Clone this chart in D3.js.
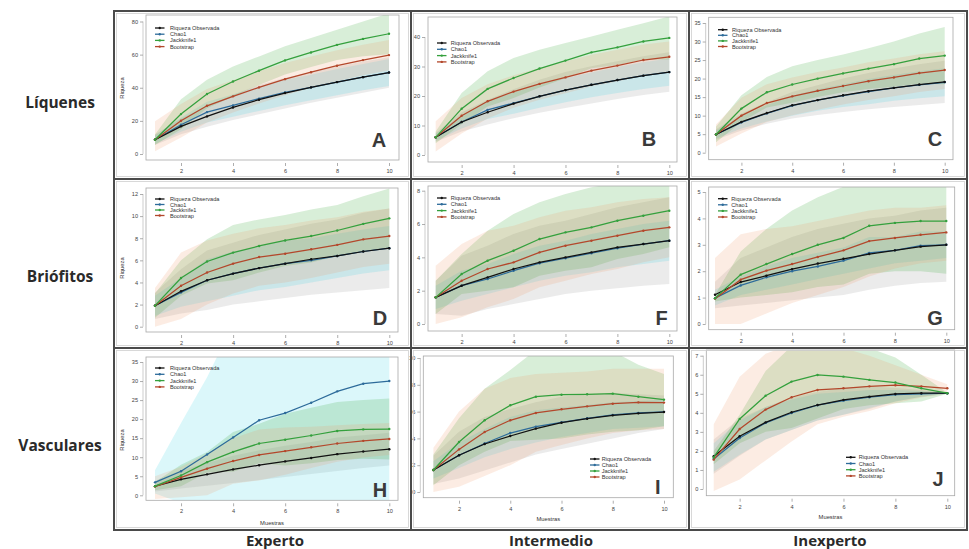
<!DOCTYPE html>
<html><head><meta charset="utf-8">
<script src="https://cdn.jsdelivr.net/npm/d3@7"></script>
<style>body{margin:0;background:#fff} svg{display:block}</style>
</head><body><svg id="c" width="969" height="549"></svg>
<script>
// ---------------- DATA ----------------
const samples = [1,2,3,4,5,6,7,8,9,10];
const seriesNames = ["Riqueza Observada","Chao1","Jackknife1","Bootstrap"];
const rowLabels = ["Líquenes","Briófitos","Vasculares"];
const colLabels = ["Experto","Intermedio","Inexperto"];
const panelLetters = ["A","B","C","D","F","G","H","I","J"];
const xTicks = [2,4,6,8,10];
const xTitle = "Muestras";
const yTitle = "Riqueza";

const yTicksA = [0,20,40,60,80];
const yTicksB = [0,10,20,30,40];
const yTicksC = [0,5,10,15,20,25,30,35];
const yTicksD = [0,2,4,6,8,10,12];
const yTicksF = [0,2,4,6,8];
const yTicksG = [0,1,2,3,4,5];
const yTicksH = [0,5,10,15,20,25,30,35];
const yTicksI = [0,2,4,6,8,10];
const yTicksJ = [0,1,2,3,4,5,6,7];

// series order: observed, chao1, jackknife1, bootstrap
const A_values = [[8.6,16.7,22.7,28.1,32.8,36.8,40.2,43.4,46.4,49.2],[8.6,17.7,25.3,29.3,33.4,37.2,40.2,43.4,46.4,49.2],[8.6,24.1,36.2,43.8,50.3,56.5,61.3,65.9,69.5,72.6],[8.6,20.1,29.1,34.8,40.2,45.2,49.4,53.3,56.7,59.7]];
const A_lower  = [[5.5,12,16.5,20.5,24,27.5,31,34,37,40],[6,13.5,19,22.5,26,29.5,32.5,35.5,38.5,41],[5.5,15,27.6,34.7,41.7,48,52.6,56.8,59,60.2],[1.6,10,19,25,30.5,35.5,40,44,47.5,50.5]];
const A_upper  = [[11.7,21.4,28.9,35.7,41.6,46.1,49.4,52.8,55.8,58.4],[11.2,22,31.5,36,40.8,44.9,47.9,51.3,54.3,57.4],[11.7,33,44.8,52.9,58.9,65,70,75,80,85],[19.7,30.2,39.2,44.6,49.9,54.9,58.8,62.6,65.9,68.9]];

const B_values = [[6.0,11.2,14.5,17.4,19.9,22.0,23.8,25.4,26.9,28.1],[6.0,11.2,15.3,17.6,19.9,22.0,23.8,25.4,26.9,28.1],[6.0,15.7,22.4,26.1,29.3,32.0,34.8,36.5,38.5,39.7],[6.0,13.3,18.2,21.5,24.1,26.3,28.6,30.3,32.2,33.3]];
const B_lower  = [[4.5,8,10.3,12.5,14.3,15.9,17.5,19,20.3,21.4],[4.8,9,12.2,14,16,17.9,19.6,21,22.4,23.5],[4,10.4,16.4,19.3,22.9,26,29.4,30.5,32.3,32.4],[1.2,7.3,12.4,16,18.7,20.9,23.2,24.9,26.9,28.1]];
const B_upper  = [[7.5,14.4,18.7,22.3,25.5,28.1,30.1,31.8,33.5,34.8],[7.2,13.4,18.4,21.2,23.8,26.1,28,29.8,31.4,32.7],[8,21,28.4,32.9,35.7,38,40.2,42.5,44.7,47],[11.4,19.3,24,27,29.5,31.7,34,35.7,37.5,38.5]];

const C_values = [[4.9,8.3,10.7,12.8,14.2,15.5,16.6,17.5,18.4,19.1],[4.9,8.2,10.6,12.7,14.2,15.4,16.5,17.5,18.3,19.0],[4.9,11.9,16.3,18.4,20.0,21.4,22.7,23.9,25.4,26.2],[4.9,10.0,13.4,15.2,16.7,18.0,19.3,20.3,21.5,22.3]];
const C_lower  = [[3.5,6,7.8,9.2,10.2,11,11.7,12.3,12.9,13.4],[3.8,6.5,8.4,10,11.3,12.3,13.1,14,14.7,15.2],[2.8,8.3,12.2,13.5,15,16.3,17.2,17.8,18.6,18.5],[1.7,5.2,8.3,10.1,11.6,13,14.2,15.2,16.4,17.2]];
const C_upper  = [[6.3,10.6,13.6,16.4,18.2,20,21.5,22.7,23.9,24.8],[6,9.9,12.8,15.4,17.1,18.5,19.9,21,22,22.8],[7,15.5,20.4,23.3,25,26.5,28.2,30,32.2,33.9],[7.6,14.8,18.5,20.3,21.8,23,24.4,25.4,26.6,27.4]];

const D_values = [[1.9,3.2,4.2,4.8,5.3,5.7,6.1,6.4,6.8,7.1],[1.9,3.1,4.2,4.8,5.3,5.7,6.0,6.4,6.8,7.1],[1.9,4.4,5.9,6.7,7.3,7.8,8.2,8.7,9.3,9.8],[1.9,3.7,4.9,5.7,6.3,6.6,7.0,7.4,7.9,8.2]];
const D_lower  = [[0.7,1.2,1.5,2,2.3,2.6,2.9,3.1,3.3,3.5],[1,1.8,2.3,2.8,3.3,3.6,4,4.4,4.8,5.1],[0.8,2.8,3.9,4.2,4.9,5.5,5.8,6.4,6.8,7.1],[0,0.7,2,3,3.7,4,4.4,4.9,5.4,5.7]];
const D_upper  = [[3.1,5.2,6.9,7.6,8.3,8.8,9.3,9.7,10.3,10.7],[2.8,4.4,6.1,6.8,7.3,7.8,8,8.4,8.8,9.1],[3,6,7.9,9.2,9.7,10.1,10.6,11,11.8,12.5],[3.5,6.7,7.8,8.4,8.9,9.2,9.6,9.9,10.4,10.7]];

const F_values = [[1.6,2.3,2.8,3.3,3.7,4.0,4.3,4.6,4.8,5.0],[1.6,2.3,2.7,3.2,3.65,3.95,4.25,4.55,4.8,5.0],[1.6,3.0,3.8,4.4,5.1,5.5,5.8,6.2,6.5,6.8],[1.6,2.6,3.3,3.7,4.3,4.7,5.0,5.3,5.6,5.8]];
const F_lower  = [[0.6,0.5,0.9,1.2,1.5,1.8,2,2.15,2.3,2.4],[0.9,1.4,1.8,2.2,2.6,2.9,3.1,3.4,3.6,3.8],[0.6,1.8,2,2.2,2.9,3.2,3.4,3.9,4.2,4.6],[0,0.4,1,1.5,2.2,2.6,3,3.3,3.7,4]];
const F_upper  = [[2.6,4.1,4.7,5.4,5.9,6.2,6.6,7,7.3,7.6],[2.3,3.2,3.6,4.2,4.7,5,5.4,5.7,6,6.2],[2.6,4.2,5.6,6.6,7.3,7.8,8.2,8.5,8.8,9],[3.5,4.8,5.6,5.9,6.4,6.8,7,7.3,7.5,7.6]];

const G_values = [[1.11,1.59,1.83,2.08,2.29,2.47,2.65,2.79,2.93,3.0],[0.98,1.46,1.77,2.0,2.18,2.40,2.69,2.79,2.97,3.0],[0.98,1.87,2.27,2.65,3.0,3.26,3.72,3.83,3.9,3.9],[0.96,1.68,2.02,2.27,2.54,2.79,3.14,3.26,3.38,3.47]];
const G_lower  = [[0.6,0.7,0.8,0.9,1,1.1,1.3,1.45,1.55,1.6],[0.7,1.1,1.3,1.5,1.7,1.9,2.1,2.3,2.4,2.5],[0.85,1,1.1,1.2,1.4,1.5,1.9,2,2,1.9],[0,0,0.4,0.8,1.1,1.4,1.8,2.1,2.3,2.4]];
const G_upper  = [[1.6,2.5,2.9,3.3,3.6,3.8,4,4.1,4.3,4.4],[1.3,1.8,2.2,2.5,2.7,2.9,3.3,3.3,3.5,3.5],[1.1,2.75,3.6,4.3,4.8,5.2,5.6,5.7,5.8,5.9],[2.5,3.4,3.6,3.7,3.9,4.1,4.3,4.4,4.4,4.5]];

const H_values = [[2.4,4.2,5.5,6.8,7.9,8.9,9.8,10.8,11.5,12.1],[3.4,6.3,10.7,15.2,19.7,21.6,24.3,27.3,29.3,30.0],[2.4,5.2,8.7,11.4,13.6,14.6,15.7,16.9,17.3,17.4],[2.3,4.7,7.0,9.0,10.6,11.6,12.6,13.6,14.3,14.8]];
const H_lower  = [[1,1.8,2.5,3.2,4,4.8,5.6,6.4,7.2,7.8],[0.5,-2,-3,-3,-3,-3,-3,-3,-3,-3],[1.3,2.4,6,6.2,8.4,7.8,8.4,9.3,9.6,9.4],[-1,-0.5,0,3,3.9,5.4,7.2,8.8,9.9,10.6]];
const H_upper  = [[3.8,6.6,8.5,10.4,11.8,13,14,15.2,15.8,16.4],[6.6,19,31,45,60,60,60,60,60,60],[3.5,8,11.4,16.6,18.8,21.4,23,24.5,25,25.4],[5,7.5,11,15,17.3,17.8,18,18.4,18.7,19]];

const I_values = [[1.64,2.74,3.58,4.18,4.73,5.17,5.47,5.72,5.87,5.97],[1.64,2.74,3.62,4.4,4.88,5.2,5.5,5.75,5.9,5.98],[1.64,3.73,5.35,6.47,7.11,7.26,7.29,7.34,7.11,6.89],[1.64,3.18,4.48,5.35,5.9,6.17,6.39,6.59,6.69,6.67]];
const I_lower  = [[0.6,1,1.6,2.2,2.8,3.2,3.6,4,4.4,4.7],[1,1.8,2.6,3.2,3.7,4.1,4.4,4.7,4.8,4.9],[0.5,2,3,3.8,3.9,4,4.3,4.5,4.6,4.9],[0,0.4,1.2,2,3,3.5,4,4.4,4.6,4.7]];
const I_upper  = [[2.7,4.5,5.6,6.2,6.7,7.1,7.3,7.4,7.3,7.2],[2.3,3.7,4.7,5.6,6.1,6.3,6.5,6.7,6.8,6.9],[2.8,5.5,7.7,9.1,10.6,11,11,10.5,9.5,8.8],[3.3,6,7.7,8.5,8.8,8.9,9,9.2,9.2,9.2]];

const J_values = [[1.72,2.77,3.5,4.03,4.41,4.68,4.85,4.99,5.03,5.03],[1.58,2.68,3.47,3.99,4.4,4.64,4.82,4.96,5.0,5.03],[1.66,3.68,4.9,5.64,5.99,5.9,5.73,5.59,5.29,5.03],[1.54,3.15,4.17,4.82,5.2,5.29,5.39,5.45,5.39,5.29]];
const J_lower  = [[0.8,1.75,2.6,3.1,3.6,3.9,4.2,4.6,4.85,5.0],[0.9,1.8,2.6,3.1,3.6,3.9,4.25,4.6,4.85,5.0],[1.3,2.4,3,3.2,3.7,4.2,4.4,4.5,4.6,5.0],[-0.1,0.5,1.5,2.5,3.4,3.8,4.1,4.5,4.8,5.0]];
const J_upper  = [[2.6,3.7,4.3,4.8,5.1,5.3,5.4,5.3,5.2,5.05],[2.4,3.6,4.3,4.7,5,5.1,5.2,5.2,5.15,5.05],[2,3.9,6.2,7.5,7.8,7.7,7.4,6.9,6,5.05],[3.4,5.9,7.1,7.6,7.6,7.4,7,6.5,6,5.5]];

// ---------------- STYLE / LAYOUT ----------------
const lineColors = ["#111111","#2d6b9a","#34a03d","#b3472b"];
const bandColors = ["rgba(130,130,130,0.16)","rgba(40,210,225,0.17)","rgba(60,170,60,0.2)","rgba(240,150,100,0.18)"];

const panelData = [
  [A_values,A_lower,A_upper,yTicksA],[B_values,B_lower,B_upper,yTicksB],[C_values,C_lower,C_upper,yTicksC],
  [D_values,D_lower,D_upper,yTicksD],[F_values,F_lower,F_upper,yTicksF],[G_values,G_lower,G_upper,yTicksG],
  [H_values,H_lower,H_upper,yTicksH],[I_values,I_lower,I_upper,yTicksI],[J_values,J_lower,J_upper,yTicksJ]
];
const layout = [
  {box:[146,15,399,160], xr:[155,389], yv:[0,80], yp:[154,21.5], leg:[155,28,6.2,15], letter:[379,147], ylab:88},
  {box:[428,17,677,162], xr:[435.7,669.3], yv:[0,40], yp:[155,37], leg:[437,43,6.3,13.7], letter:[649,146]},
  {box:[708.7,17.3,953,159.7], xr:[716,944.7], yv:[0,35], yp:[152.7,23], leg:[718,29.7,5.6,14], letter:[935,146]},
  {box:[146,188,398,332], xr:[155,389.3], yv:[0,12], yp:[326.7,194], leg:[155,199,5.5,15], letter:[380,324.7], ylab:268},
  {box:[428,186,677,331], xr:[435.7,669.3], yv:[0,8], yp:[324,190.7], leg:[437,198,6.3,13.7], letter:[661.7,324.7]},
  {box:[708.7,187,954.7,329.7], xr:[715,946.3], yv:[0,5], yp:[324,192], leg:[718,198.7,6.1,13.3], letter:[935,324.7]},
  {box:[146,357,398,500.3], xr:[155,389.3], yv:[0,35], yp:[495.3,362], leg:[155,368,6.3,15], letter:[380,497], ylab:440, xlab:524.5},
  {box:[423.3,356,673.3,497.7], xr:[433.4,664], yv:[0,10], yp:[492,358], leg:[590,459,6,11.7], letter:[657.7,493.7], xlab:520.5},
  {box:[706.3,350,954.7,495.7], xr:[713.7,947.3], yv:[0,7], yp:[489,355.7], leg:[846,457.3,6.2,12.7], letter:[938,485.7], xlab:519}
];
const colX = [114,411,689,967];
const rowY = [11,179,348,530];

const svg = d3.select("#c");
const FONT = "'Liberation Sans', Arial, sans-serif";
const defs = svg.append("defs");

panelData.forEach((P, i) => {
  const [vals, lo, hi, yT] = P;
  const L = layout[i];
  const [bx0,by0,bx1,by1] = L.box;
  const x = d3.scaleLinear().domain([1,10]).range(L.xr);
  const y = d3.scaleLinear().domain(L.yv).range(L.yp);
  const g = svg.append("g");
  g.append("rect").attr("x",bx0).attr("y",by0).attr("width",bx1-bx0).attr("height",by1-by0).attr("fill","#fff");
  defs.append("clipPath").attr("id","clip"+i).append("rect")
    .attr("x",bx0).attr("y",by0).attr("width",bx1-bx0).attr("height",by1-by0);
  const inner = g.append("g").attr("clip-path",`url(#clip${i})`);
  const area = d3.area().x((d,j)=>x(samples[j])).y0(d=>y(d[0])).y1(d=>y(d[1]));
  for (let s=0;s<4;s++){
    const pts = samples.map((_,j)=>[lo[s][j],hi[s][j]]);
    inner.append("path").attr("d",area(pts)).attr("fill",bandColors[s]);
  }
  const line = d3.line().x((d,j)=>x(samples[j])).y(d=>y(d));
  [1,0,3,2].forEach(s=>{
    inner.append("path").attr("d",line(vals[s])).attr("fill","none")
      .attr("stroke",lineColors[s]).attr("stroke-width",1.25);
    inner.selectAll(null).data(vals[s]).enter().append("circle")
      .attr("cx",(d,j)=>x(samples[j])).attr("cy",d=>y(d)).attr("r",1.2).attr("fill",lineColors[s]);
  });
  g.append("rect").attr("x",bx0).attr("y",by0).attr("width",bx1-bx0).attr("height",by1-by0)
    .attr("fill","none").attr("stroke","#a8a8a8").attr("stroke-width",0.8);
  const ya = g.append("g").attr("transform",`translate(${bx0-3},0)`)
    .call(d3.axisLeft(y).tickValues(yT).tickSize(3).tickPadding(2).tickFormat(d3.format("d")));
  ya.select(".domain").remove();
  ya.append("line").attr("x1",0).attr("x2",0).attr("y1",y(yT[0])).attr("y2",y(yT[yT.length-1])).attr("stroke","#999").attr("stroke-width",0.5);
  const xa = g.append("g").attr("transform",`translate(0,${by1+3})`)
    .call(d3.axisBottom(x).tickValues(xTicks).tickSize(3).tickPadding(3).tickFormat(d3.format("d")));
  xa.select(".domain").remove();
  [ya,xa].forEach(a=>{
    a.selectAll("text").attr("font-size",5.6).attr("font-family",FONT).attr("fill","#444");
    a.selectAll(".tick line").attr("stroke","#777").attr("stroke-width",0.6);
  });
  if (L.ylab) g.append("text").attr("transform",`translate(124,${L.ylab}) rotate(-90)`)
    .attr("text-anchor","middle").attr("font-size",5.8).attr("font-family",FONT).attr("fill","#333").text(yTitle);
  if (L.xlab) g.append("text").attr("x",(bx0+bx1)/2).attr("y",L.xlab)
    .attr("text-anchor","middle").attr("font-size",5.8).attr("font-family",FONT).attr("fill","#333").text(xTitle);
  const [lx,ly,ldy,ltx] = L.leg;
  seriesNames.forEach((n,s)=>{
    const yy = ly + s*ldy;
    g.append("line").attr("x1",lx).attr("x2",lx+9.5).attr("y1",yy).attr("y2",yy)
      .attr("stroke",lineColors[s]).attr("stroke-width",1.3);
    g.append("circle").attr("cx",lx+4.75).attr("cy",yy).attr("r",1.2).attr("fill",lineColors[s]);
    g.append("text").attr("x",lx+ltx).attr("y",yy+2).attr("font-size",5.6).attr("font-family",FONT)
      .attr("fill","#333").text(n);
  });
  g.append("text").attr("x",L.letter[0]).attr("y",L.letter[1]).attr("text-anchor","middle")
    .attr("font-size",20).attr("font-weight","bold").attr("font-family",FONT).attr("fill","#3a3a3a").text(panelLetters[i]);
});

for (let r=0;r<3;r++) for (let c=0;c<3;c++){
  svg.append("rect").attr("x",colX[c]+2.5).attr("y",rowY[r]+2.5)
    .attr("width",colX[c+1]-colX[c]-5).attr("height",rowY[r+1]-rowY[r]-5)
    .attr("fill","none").attr("stroke","#cfcfcf").attr("stroke-width",0.8);
  svg.append("rect").attr("x",colX[c]).attr("y",rowY[r])
    .attr("width",colX[c+1]-colX[c]).attr("height",rowY[r+1]-rowY[r])
    .attr("fill","none").attr("stroke","#4a4a4a").attr("stroke-width",2);
}
const rowCenters = [103,277,446];
rowLabels.forEach((t,r)=>svg.append("text").attr("x",60).attr("y",rowCenters[r]+5).attr("text-anchor","middle")
  .attr("font-size",15.5).attr("font-weight","bold").attr("font-family","'Open Sans', sans-serif").attr("fill","#2a2a2a").text(t));
const colCenters = [275,551,830];
colLabels.forEach((t,c)=>svg.append("text").attr("x",colCenters[c]).attr("y",546).attr("text-anchor","middle")
  .attr("font-size",15).attr("font-weight","bold").attr("font-family","'Open Sans', sans-serif").attr("fill","#2a2a2a").text(t));
</script></body></html>
